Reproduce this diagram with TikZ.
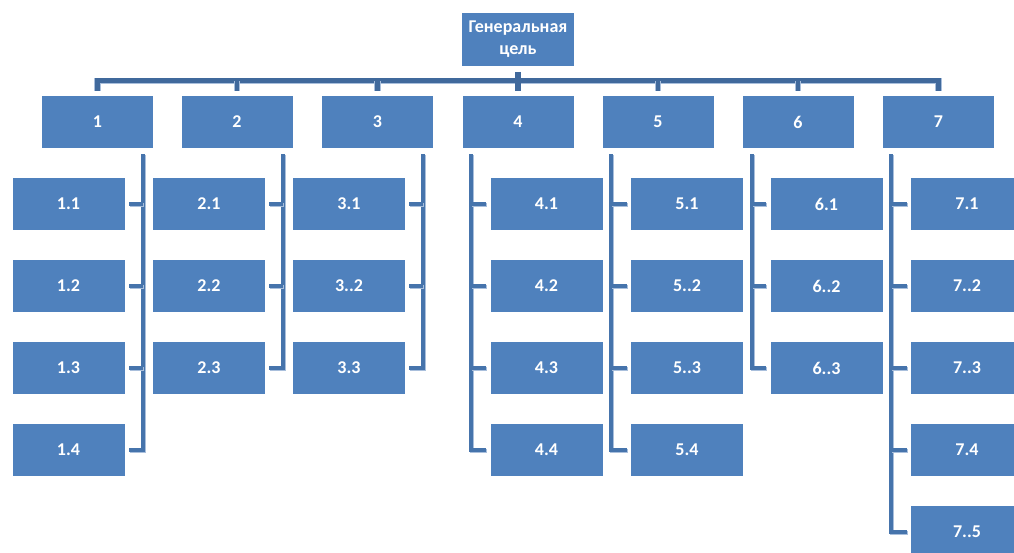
\documentclass[tikz,border=0pt]{standalone}
\usepackage{fontspec}
\setmainfont{Carlito}
\definecolor{boxblue}{HTML}{4F81BD}
\definecolor{linkblue}{HTML}{4674AC}
\definecolor{barblue}{HTML}{40699C}
\definecolor{shadeblue}{HTML}{A9BFDC}
\tikzset{
  box/.style={fill=boxblue, draw=none, minimum width=112pt, minimum height=52pt,
    inner sep=0pt, text=white, align=center,
    font=\fontsize{18}{22}\selectfont\bfseries},
  topbox/.style={box, minimum height=53pt},
  conn/.style={draw=linkblue, line width=4.6pt, line join=miter,
    preaction={draw=shadeblue, line width=4.6pt, transform canvas={shift={(1pt,-1pt)}}}},
  bar/.style={draw=barblue, line width=4.8pt, line join=miter,
    preaction={draw=shadeblue, line width=6.2pt}},
}
\begin{document}
\begin{tikzpicture}[x=1pt, y=-1pt]
\useasboundingbox (0,0) rectangle (1014,553);
\clip (0,0) rectangle (1014,553);

% general goal
\node[topbox] (g) at (518,39.2) {Генеральная\\цель};

% first level
\foreach \i/\x in {1/97.5, 2/237, 3/377.5, 4/518, 5/658, 6/798, 7/938.5}
  \node[box, minimum width=111pt] (p\i) at (\x,122) {\i};

% second level
\foreach \n/\x/\y/\t in {
  c11/68.5/204/1.1, c12/68.5/286/1.2, c13/68.5/368/1.3, c14/68.5/450/1.4,
  c21/209/204/2.1, c22/209/286/2.2, c23/209/368/2.3,
  c31/349/204/3.1, c32/349/286/3..2, c33/349/368/3.3,
  c41/546.5/204/4.1, c42/546.5/286/4.2, c43/546.5/368/4.3, c44/546.5/450/4.4,
  c51/687/204/5.1, c52/687/286/5..2, c53/687/368/5..3, c54/687/450/5.4,
  c61/826.5/204/6.1, c62/826.5/286/6..2, c63/826.5/368/6..3,
  c71/967/204/7.1, c72/967/286/7..2, c73/967/368/7..3, c74/967/450/7.4, c75/967/532/7..5}
  \node[box] (\n) at (\x,\y) {\t};

% vertical trunk positions
\coordinate (l1) at (143,0);
\coordinate (l2) at (283,0);
\coordinate (l3) at (423,0);
\coordinate (l4) at (471,0);
\coordinate (l5) at (611,0);
\coordinate (l6) at (752,0);
\coordinate (l7) at (891,0);

% top bar and drops
\draw[bar] ([yshift=5pt]p1.north) |- ([yshift=15pt]p7.north) -- ([yshift=5pt]p7.north);
\foreach \i in {2,3,5,6}
  \draw[bar] ([yshift=15pt]p\i.north) -- ([yshift=5pt]p\i.north);
\draw[bar, line width=6pt] ([yshift=-6pt]g.south) -- ([yshift=5pt]p4.north);

% trunks running right of their children
\foreach \k/\last/\rest in {1/c14/{c11,c12,c13}, 2/c23/{c21,c22}, 3/c33/{c31,c32}}{
  \draw[conn] ([yshift=-6pt]p\k.south -| l\k) |- ([xshift=4pt]\last.east);
  \foreach \c in \rest
    \draw[conn] (\c.east -| l\k) -- ([xshift=4pt]\c.east);
}
% trunks running left of their children
\foreach \k/\last/\rest in {4/c44/{c41,c42,c43}, 5/c54/{c51,c52,c53}, 6/c63/{c61,c62}, 7/c75/{c71,c72,c73,c74}}{
  \draw[conn] ([yshift=-6pt]p\k.south -| l\k) |- ([xshift=-4pt]\last.west);
  \foreach \c in \rest
    \draw[conn] (\c.west -| l\k) -- ([xshift=-4pt]\c.west);
}
\end{tikzpicture}
\end{document}
